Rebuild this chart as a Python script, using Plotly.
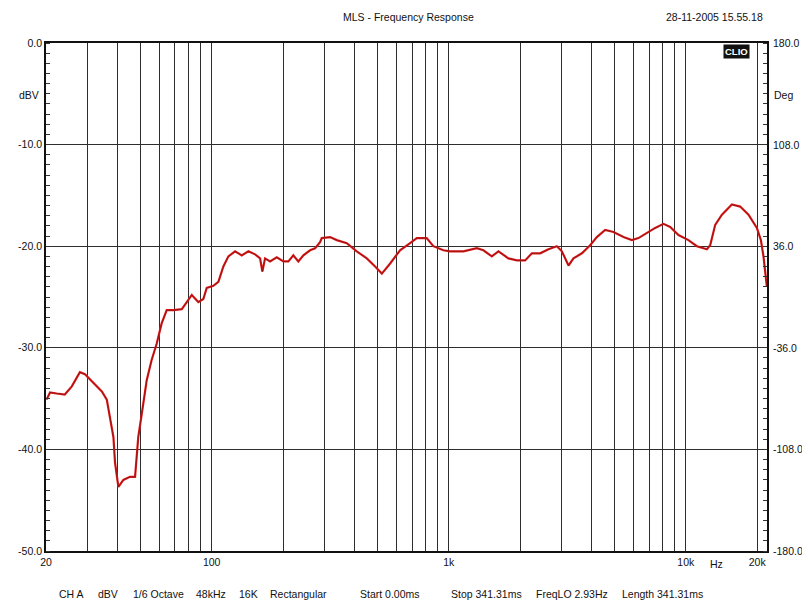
import math
import plotly.graph_objects as go

# ---------------- data ----------------
freq_hz = [20.1, 20.8, 22.2, 24.0, 25.7, 27.8, 29.2, 31.7, 34.4, 36.1, 37.3, 38.5, 39.1,
           40.4, 42.4, 45.2, 47.5, 49.0, 50.7, 53.2, 55.8, 58.6, 61.5, 64.6, 68.9, 74.8,
           78.5, 82.4, 87.8, 92.2, 95.3, 101.6, 106.7, 112, 117.6, 125.5, 133.9, 142.8,
           152.4, 160, 163.6, 167.9, 176.3, 188.1, 200.6, 210.6, 221, 232, 243.7, 260,
           273, 286.5, 291.2, 315.7, 337, 371.5, 409, 451, 489, 522, 566, 623, 687, 733,
           807, 861, 949, 1013, 1153, 1313, 1400, 1519, 1620, 1785, 1937, 2100, 2242,
           2430, 2634, 2857, 3000, 3200, 3358, 3643, 3950, 4214, 4568, 4952, 5458, 5918,
           6313, 6847, 7424, 8049, 8590, 9311, 10257, 11134, 12271, 12670, 13300, 14200,
           15640, 16950, 18380, 19940, 20730, 21260, 21970]
level_dbv = [-35.1, -34.4, -34.5, -34.6, -33.8, -32.4, -32.6, -33.5, -34.3, -35.1, -36.8,
             -38.8, -41.3, -43.7, -43.0, -42.7, -42.7, -38.8, -36.5, -33.2, -31.2, -29.6,
             -27.6, -26.3, -26.3, -26.2, -25.5, -24.8, -25.5, -25.2, -24.1, -23.9, -23.5,
             -22.0, -21.0, -20.5, -20.9, -20.5, -20.8, -21.2, -22.5, -21.2, -21.5, -21.1,
             -21.5, -21.5, -20.9, -21.5, -20.9, -20.4, -20.2, -19.6, -19.2, -19.1, -19.4,
             -19.7, -20.5, -21.2, -22.0, -22.7, -21.7, -20.4, -19.7, -19.2, -19.2, -20.0,
             -20.4, -20.5, -20.5, -20.2, -20.4, -21.0, -20.5, -21.2, -21.4, -21.4, -20.7,
             -20.7, -20.3, -20.0, -20.5, -21.9, -21.2, -20.7, -19.9, -19.1, -18.4, -18.6,
             -19.1, -19.4, -19.2, -18.7, -18.2, -17.8, -18.1, -18.9, -19.4, -20.0, -20.3,
             -19.9, -17.9, -16.9, -15.9, -16.1, -16.9, -18.2, -19.4, -21.0, -24.0]

x_grid = [20, 30, 40, 50, 60, 70, 80, 90, 100, 200, 300, 400, 500, 600, 700, 800, 900,
          1000, 2000, 3000, 4000, 5000, 6000, 7000, 8000, 9000, 10000, 20000]
x_labels = {20: "20", 100: "100", 1000: "1k", 10000: "10k", 20000: "20k"}
y_ticks = [0, -10, -20, -30, -40, -50]
y_labels = ["0.0", "-10.0", "-20.0", "-30.0", "-40.0", "-50.0"]
deg_ticks = [180, 108, 36, -36, -108, -180]
deg_labels = ["180.0", "108.0", "36.0", "-36.0", "-108.0", "-180.0"]

title_text = "MLS - Frequency Response"
date_text = "28-11-2005 15.55.18"
footer_items = ["CH A", "dBV", "1/6 Octave", "48kHz", "16K", "Rectangular",
                "Start 0.00ms", "Stop 341.31ms", "FreqLO 2.93Hz", "Length 341.31ms"]

# ---------------- layout geometry ----------------
# the page body has an 8px margin, so the figure is drawn 8px in from the window corner
OFF = 8
W, H = 810 - OFF, 610 - OFF
PLOT_L, PLOT_R, PLOT_T, PLOT_B = 46, 767, 43, 551   # window coordinates of the plot box
L, R = PLOT_L - OFF, W - (PLOT_R - OFF)
T, B = PLOT_T - OFF, H - (PLOT_B - OFF)
PW, PH = W - L - R, H - T - B
FONT = "Liberation Sans, Arial, sans-serif"
FS = 10.5


def px(x):
    return (x - OFF - L) / PW


def py(y):
    return 1 - (y - OFF - T) / PH


fig = go.Figure()
fig.add_trace(go.Scatter(x=freq_hz, y=level_dbv, mode="lines",
                         line=dict(color="#e01a1a", width=2.2), showlegend=False,
                         hoverinfo="x+y"))
fig.add_trace(go.Scatter(x=freq_hz, y=level_dbv, mode="lines",
                         line=dict(color="rgba(70,10,10,0.55)", width=0.8), showlegend=False,
                         hoverinfo="skip"))
# invisible trace to anchor right axis
fig.add_trace(go.Scatter(x=[20, 20000], y=[180, -180], yaxis="y2", mode="lines",
                         line=dict(color="rgba(0,0,0,0)"), showlegend=False, hoverinfo="skip"))

fig.update_layout(
    width=W, height=H,
    margin=dict(l=L, r=R, t=T, b=B, autoexpand=False),
    paper_bgcolor="white", plot_bgcolor="white",
    font=dict(family=FONT, size=FS, color="#111"),
    xaxis=dict(type="log", range=[math.log10(20), math.log10(22000)],
               tickmode="array", tickvals=x_grid,
               ticktext=[x_labels.get(v, "") for v in x_grid],
               showgrid=True, gridcolor="#2e2e2e", gridwidth=1.4,
               showline=True, linecolor="#111", linewidth=1.8, mirror=True,
               ticks="", zeroline=False, automargin=False,
               tickfont=dict(size=FS, family=FONT)),
    yaxis=dict(range=[-50, 0], tickmode="array", tickvals=y_ticks, ticktext=y_labels,
               showgrid=True, gridcolor="#2e2e2e", gridwidth=1.4,
               showline=True, linecolor="#111", linewidth=1.8, mirror=True,
               ticks="", zeroline=False, automargin=False,
               tickfont=dict(size=FS, family=FONT),
               minor=dict(dtick=1, ticks="inside", ticklen=4, tickcolor="#333",
                          tickwidth=1, showgrid=False)),
    yaxis2=dict(range=[-180, 180], overlaying="y", side="right",
                tickmode="array", tickvals=deg_ticks, showticklabels=False,
                showgrid=False, zeroline=False, showline=False, ticks="",
                automargin=False,
                minor=dict(dtick=7.2, tick0=0, ticks="inside", ticklen=4,
                           tickcolor="#333", tickwidth=1, showgrid=False)),
)

ann = [
    dict(x=px(408), y=py(17), text=title_text),
    dict(x=px(714), y=py(17), text=date_text),
    dict(x=px(29), y=py(95), text="dBV"),
    dict(x=px(772), y=py(95), text="Deg", xanchor="left"),
    dict(x=px(716), y=py(564), text="Hz"),
    dict(x=px(736), y=py(52), text="<b>CLIO</b>", font=dict(size=9.5, color="white"),
         bgcolor="#111", borderpad=1),
]
# right-hand (phase) scale labels
for v, t in zip(deg_ticks, deg_labels):
    ann.append(dict(x=1, y=v, yref="y2", text=t, xanchor="left", xshift=4))
# footer laid out across the bottom line
fx = [71, 108, 158, 211, 248, 298, 390, 487, 572, 662]
for t, x in zip(footer_items, fx):
    ann.append(dict(x=px(x), y=py(594), text=t))

for a in ann:
    a.setdefault("xref", "paper")
    a.setdefault("yref", "paper")
    a.setdefault("xanchor", "center")
    a.update(showarrow=False, yanchor="middle")
    a.setdefault("font", dict(size=FS))
    fig.add_annotation(**a)

fig.write_html("out.html")
